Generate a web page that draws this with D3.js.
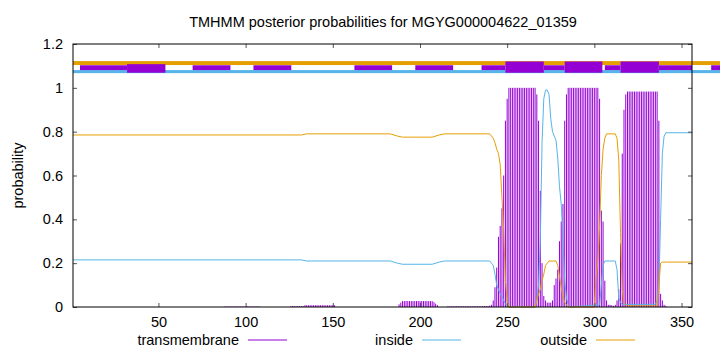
<!DOCTYPE html>
<html>
<head>
<meta charset="utf-8">
<script src="https://cdn.jsdelivr.net/npm/d3@7"></script>
<style>
  body { margin: 0; background: #fff; }
  svg { display: block; }
  text { font-family: "Liberation Sans", Arial, sans-serif; fill: #000; }
</style>
</head>
<body>
<svg id="chart" width="720" height="352"></svg>
<script>
// Chart data
const title = 'TMHMM posterior probabilities for MGYG000004622_01359';
const seqLength = 356;
const xTicks = [50, 100, 150, 200, 250, 300, 350];
const yTicks = [0, 0.2, 0.4, 0.6, 0.8, 1, 1.2];
const seriesNames = ['transmembrane', 'inside', 'outside'];

// transmembrane probability, one value per residue 1..356
const tmProb = [
  0,0,0,0,0,0,0,0,0,0,0,0,0,0,0,0,0,0,0,0,
  0,0,0,0,0,0,0,0,0,0,0,0,0,0,0,0,0,0,0,0,
  0,0,0,0,0,0,0,0,0,0,0,0,0,0,0,0,0,0,0,0,
  0,0,0,0,0,0,0,0,0,0,0,0,0,0,0,0,0,0,0,0,
  0,0,0,0,0,0,0,                                      // 1-87
  0.002,0.002,0.002,0.002,0.002,0.002,0.002,0.002,0.002,0.002,
  0.002,0.002,0.002,0.002,0.002,0.002,0.002,0.002,0.002,0.002,0.002, // 88-108
  0,0,0,0,0,0,0,0,0,0,0,0,0,0,0,0,0,                  // 109-125
  0.004,0.004,0.004,0.004,0.004,0.004,0.004,0.004,    // 126-133
  0.008,0.008,0.008,0.008,0.008,0.008,0.008,0.008,0.008,
  0.008,0.008,0.008,0.008,0.008,0.008,0.008,0.008,0.008, // 134-151
  0,0,0,0,0,0,0,0,0,0,0,0,0,0,0,0,0,0,
  0,0,0,0,0,0,0,0,0,0,0,0,0,0,0,0,0,0,                // 152-187
  0.012,0.02,
  0.027,0.027,0.027,0.027,0.027,0.027,0.027,0.027,0.027,
  0.027,0.027,0.027,0.027,0.027,0.027,0.027,0.027,0.027,
  0.022,0.015,0.008,                                  // 188-210
  0,0,0,0,0,                                          // 211-215
  0.003,0.003,0.003,0.003,0.003,0.003,0.003,0.003,0.003,0.003,
  0.003,0.003,0.003,0.003,0.003,0.003,0.003,0.003,0.003,0.003, // 216-235
  0.004,0.004,0.004,0.004,                            // 236-239
  0.006,0.01,0.03,0.09,0.18,0.32,0.37,0.45,0.6,0.85,0.95, // 240-250
  1,1,1,1,1,1,1,1,1,1,1,1,1,1,1,                      // 251-265
  1,0.97,0.85,0.53,0.2,0.05,0.03,0.02,0.02,0.02,
  0.03,0.1,0.13,0.17,0.3,0.39,0.47,0.85,0.97,         // 266-284
  1,1,1,1,1,1,1,1,1,1,1,1,1,1,1,1,1,1,                // 285-302
  0.95,0.44,0.39,0.12,0.03,0.01,0.01,0.008,0.005,0.01,
  0.03,0.08,0.29,0.7,0.9,0.97,                        // 303-318
  0.983,0.983,0.983,0.983,0.983,0.983,0.983,0.983,0.983,
  0.983,0.983,0.983,0.983,0.983,0.983,0.983,0.983,0.983, // 319-336
  0.85,0.06,0.03,0.01,0.005,                          // 337-341
  0,0,0,0,0,0,0,0,0,0,0,0,0,0,0                       // 342-356
];

// inside / outside probability: [residue, probability] points along each curve
const insidePts = [
  [1,0.215],[132,0.215],[135,0.21],[183,0.21],[187,0.2],[190,0.195],[207,0.195],[211,0.205],
  [214,0.21],[240,0.21],[241,0.2],[242,0.19],[243,0.15],[244,0.1],[245,0.08],[246,0.06],
  [247,0.05],[248,0.03],[249,0.015],[250,0.005],[251,0],[266,0],[267,0.03],[268,0.1],
  [269,0.3],[270,0.75],[271,0.95],[272,0.99],[273,0.99],[274,0.97],[275,0.86],[276,0.8],
  [277,0.78],[278,0.76],[279,0.68],[280,0.55],[281,0.47],[282,0.3],[283,0.12],[284,0.04],
  [285,0.01],[286,0],[303,0.01],[304,0.1],[305,0.19],[306,0.21],[312,0.21],[313,0.17],
  [314,0.04],[315,0.02],[316,0.012],[335,0.012],[336,0.03],[337,0.1],[338,0.4],[339,0.7],
  [340,0.78],[341,0.795],[356,0.795]
];
const outsidePts = [
  [1,0.785],[132,0.785],[135,0.79],[183,0.79],[187,0.78],[190,0.775],[207,0.775],[211,0.785],
  [214,0.79],[240,0.79],[241,0.78],[242,0.77],[243,0.75],[244,0.72],[245,0.7],[246,0.65],
  [247,0.5],[248,0.35],[249,0.12],[250,0.03],[251,0],[266,0],[267,0.03],[268,0.06],
  [269,0.08],[270,0.12],[271,0.15],[272,0.19],[273,0.2],[274,0.21],[278,0.21],[279,0.19],
  [280,0.14],[281,0.09],[282,0.05],[283,0.02],[284,0.01],[285,0],[300,0],[301,0.14],
  [302,0.21],[303,0.37],[304,0.6],[305,0.72],[306,0.77],[307,0.79],[312,0.79],[313,0.77],
  [314,0.67],[315,0.34],[316,0.08],[317,0.02],[318,0.01],[319,0.005],[336,0.005],[337,0.1],
  [338,0.2],[339,0.205],[356,0.205]
];

// topology strip above the plot: [start, end] in residues
const stripThin = [[5,32],[69.6,91.3],[104.5,126.2],[162.4,184],[197.3,219],[235.3,249],
                   [271,283],[306,315],[337,356],[367,380]];
const stripThickShort = [[32,54]];
const stripThick = [[249,271],[283,304.6],[315,337]];

const colors = { tm: '#9400d3', inside: '#56b4e9', outside: '#e69f00' };

const W = 720, H = 352;
const margin = { left: 73, right: 28, top: 44, bottom: 45 };
const svg = d3.select('#chart');

const x = d3.scaleLinear().domain([1, seqLength]).range([margin.left, W - margin.right]);
const y = d3.scaleLinear().domain([0, 1.2]).range([H - margin.bottom, margin.top]);

// title
svg.append('text')
  .attr('x', 383).attr('y', 27)
  .attr('text-anchor', 'middle')
  .attr('font-size', 14.5)
  .text(title);

// y label
svg.append('text')
  .attr('transform', `translate(18,${(y(0) + y(1.2)) / 2}) rotate(-90)`)
  .attr('text-anchor', 'middle')
  .attr('dy', '0.35em')
  .attr('font-size', 14.5)
  .text('probability');

// transmembrane impulses
svg.append('g')
  .selectAll('line')
  .data(tmProb)
  .join('line')
  .attr('x1', (d, i) => x(i + 1))
  .attr('x2', (d, i) => x(i + 1))
  .attr('y1', y(0))
  .attr('y2', d => y(d))
  .attr('stroke', colors.tm)
  .attr('stroke-width', 1);

const line = d3.line().x(d => x(d[0])).y(d => y(d[1]));

svg.append('path').datum(insidePts)
  .attr('d', line).attr('fill', 'none')
  .attr('stroke', colors.inside).attr('stroke-width', 1);

svg.append('path').datum(outsidePts)
  .attr('d', line).attr('fill', 'none')
  .attr('stroke', colors.outside).attr('stroke-width', 1);

// topology strip
svg.append('rect')
  .attr('x', x(1)).attr('y', y(1.122))
  .attr('width', W - x(1)).attr('height', y(1.104) - y(1.122))
  .attr('fill', colors.outside);
svg.append('rect')
  .attr('x', x(1)).attr('y', y(1.081))
  .attr('width', W - x(1)).attr('height', y(1.067) - y(1.081))
  .attr('fill', colors.inside);

const strip = svg.append('g');
function stripBoxes(segs, yTop, yBottom) {
  strip.selectAll(null)
    .data(segs)
    .join('rect')
    .attr('x', d => x(d[0]))
    .attr('width', d => x(d[1]) - x(d[0]))
    .attr('y', y(yTop))
    .attr('height', y(yBottom) - y(yTop))
    .attr('fill', colors.tm);
}
stripBoxes(stripThin, 1.103, 1.081);
stripBoxes(stripThickShort, 1.108, 1.069);
stripBoxes(stripThick, 1.12, 1.069);

// axes (ticks point inward, mirrored)
const axBottom = svg.append('g')
  .attr('transform', `translate(0,${y(0)})`)
  .call(d3.axisBottom(x).tickValues(xTicks).tickSize(-4).tickPadding(10));
const axLeft = svg.append('g')
  .attr('transform', `translate(${x(1)},0)`)
  .call(d3.axisLeft(y).tickValues(yTicks).tickSize(-4).tickPadding(10).tickFormat(d => String(d)));
const axTop = svg.append('g')
  .attr('transform', `translate(0,${y(1.2)})`)
  .call(d3.axisTop(x).tickValues(xTicks).tickSize(-4).tickFormat(''));
const axRight = svg.append('g')
  .attr('transform', `translate(${x(seqLength)},0)`)
  .call(d3.axisRight(y).tickValues(yTicks).tickSize(-4).tickFormat(''));

[axBottom, axLeft, axTop, axRight].forEach(g => {
  g.select('.domain').remove();
  g.selectAll('.tick line').attr('stroke', '#555');
  g.selectAll('.tick text').attr('font-size', 14.5).attr('font-family', '"Liberation Sans", Arial, sans-serif').attr('fill', '#000');
});

// border
svg.append('rect')
  .attr('x', x(1)).attr('y', y(1.2))
  .attr('width', x(seqLength) - x(1)).attr('height', y(0) - y(1.2))
  .attr('fill', 'none').attr('stroke', '#000').attr('stroke-width', 1);

// legend
const legendItems = [
  { name: seriesNames[0], color: colors.tm, textEnd: 239 },
  { name: seriesNames[1], color: colors.inside, textEnd: 413 },
  { name: seriesNames[2], color: colors.outside, textEnd: 587 }
];
const legend = svg.append('g').attr('transform', 'translate(0,340)');
legend.selectAll('text')
  .data(legendItems)
  .join('text')
  .attr('x', d => d.textEnd)
  .attr('dy', '0.35em')
  .attr('text-anchor', 'end')
  .attr('font-size', 14.5)
  .text(d => d.name);
legend.selectAll('line')
  .data(legendItems)
  .join('line')
  .attr('x1', d => d.textEnd + 9)
  .attr('x2', d => d.textEnd + 48)
  .attr('stroke', d => d.color)
  .attr('stroke-width', 1);
</script>
</body>
</html>
